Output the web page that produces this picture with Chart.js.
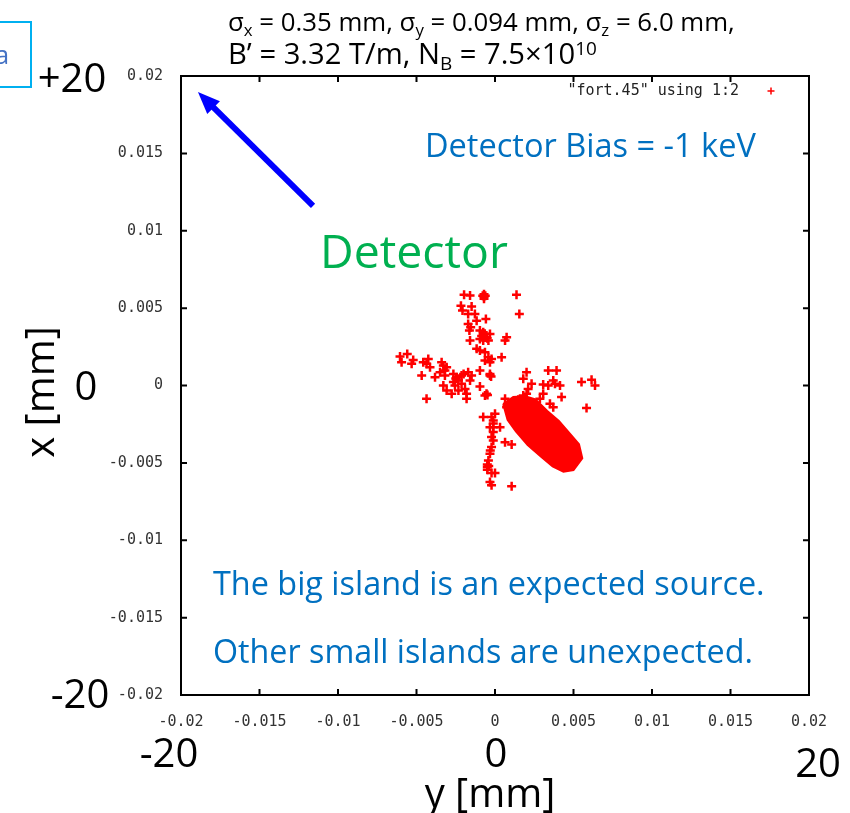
<!DOCTYPE html>
<html>
<head>
<meta charset="utf-8">
<script src="https://cdn.jsdelivr.net/npm/chart.js@4.4.0/dist/chart.umd.min.js"></script>
<style>
  html, body { margin: 0; padding: 0; background: #fff; }
  #wrap { position: relative; width: 850px; height: 813px; overflow: hidden; }
  #wrap canvas { position: absolute; left: 0; top: 0; }
  .lbl { position: absolute; white-space: nowrap; line-height: 1; font-family: "Open Sans", sans-serif; color: #000; }
  .mid { transform: translate(-50%, -50%); }
  .lft { transform: translateY(-50%); }
  .big { font-size: 40px; }
  .blue { color: #0070C0; }
  .sb { font-size: 0.65em; vertical-align: -0.3em; }
  .sp { font-size: 0.65em; vertical-align: 0.5em; }
  #tag { position: absolute; left: -20px; top: 21px; width: 48px; height: 63px; border: 2px solid #00B0F0; }
</style>
</head>
<body>
<div id="wrap">
  <canvas id="chart" width="850" height="813"></canvas>

  <div id="tag"></div>
  <div class="lbl mid" style="left:2px; top:54px; font-size:26px; color:#4472C4;">a</div>

  <div class="lbl lft" data-w="507" style="left:228px; top:24px; font-size:22px;">&sigma;<span class="sb">x</span> = 0.35 mm, &sigma;<span class="sb">y</span> = 0.094 mm, &sigma;<span class="sb">z</span> = 6.0 mm,</div>
  <div class="lbl lft" data-w="369" style="left:228px; top:56px; font-size:22px;">B&rsquo; = 3.32 T/m, N<span class="sb">B</span> = 7.5&times;10<span class="sp">10</span></div>

  <div class="lbl mid big" style="left:72px; top:77px;">+20</div>
  <div class="lbl mid big" style="left:86px; top:385px;">0</div>
  <div class="lbl mid big" style="left:80px; top:693px;">-20</div>
  <div class="lbl big" style="left:39px; top:392px; transform: translate(-50%, -50%) rotate(-90deg);">x [mm]</div>

  <div class="lbl mid big" style="left:169px; top:752px;">-20</div>
  <div class="lbl mid big" style="left:496px; top:752px;">0</div>
  <div class="lbl mid big" style="left:818px; top:762px;">20</div>
  <div class="lbl mid big" style="left:490px; top:792px;">y [mm]</div>

  <div class="lbl lft blue" data-w="331" style="left:425px; top:145px; font-size:28px;">Detector Bias = -1 keV</div>
  <div class="lbl lft" data-w="188" style="left:320px; top:250px; font-size:42px; color:#00B050;">Detector</div>
  <div class="lbl lft blue" data-w="552" style="left:213px; top:582px; font-size:28px;">The big island is an expected source.</div>
  <div class="lbl lft blue" data-w="540" style="left:213px; top:651px; font-size:28px;">Other small islands are unexpected.</div>
</div>

<script>
// horizontal axis = y [m], vertical axis = x [m]
const axisTicks = [-0.02, -0.015, -0.01, -0.005, 0, 0.005, 0.01, 0.015, 0.02];

// outline of the big (expected) island
const islandH = [0.00052, 0.00116, 0.00192, 0.00258, 0.00333, 0.00407, 0.00481, 0.00535,
                 0.00556, 0.00500, 0.00436, 0.00367, 0.00292, 0.00208, 0.00133, 0.00080, 0.00052];
const islandV = [-0.00120, -0.00074, -0.00070, -0.00090, -0.00165, -0.00229, -0.00316, -0.00380,
                 -0.00470, -0.00547, -0.00557, -0.00523, -0.00459, -0.00384, -0.00297, -0.00222, -0.00120];

// small islands / stray hits
const strayH = [
  // upper arm
  -0.00197, -0.00159, -0.00070, -0.00070, -0.00070, -0.00078, -0.00062, 0.00137, 0.00155, -0.00217,
  -0.00149, -0.00207, -0.00171, -0.00128, -0.00117, -0.00058, -0.00171, -0.00155, -0.00163, -0.00096,
  -0.00075, -0.00032, -0.00058, -0.00096, -0.00075, -0.00042, -0.00159, 0.00074, 0.00064, -0.00117,
  -0.00096, -0.00064, -0.00042, -0.00022, -0.00064, 0.00042, -0.00032, -0.00085, -0.00065, -0.00050,
  // left arm
  -0.00605, -0.00559, -0.00595, -0.00521, -0.00531, -0.00457, -0.00425, -0.00436, -0.00414, -0.00340,
  -0.00329, -0.00308, -0.00319, -0.00350, -0.00467, -0.00382, -0.00319, -0.00265, -0.00245, -0.00213,
  -0.00171, -0.00149, -0.00159, -0.00233, -0.00265, -0.00255, -0.00213, -0.00329, -0.00308, -0.00276,
  -0.00233, -0.00191, -0.00181, -0.00181, -0.00436, -0.00096, -0.00032, -0.00032, -0.00025, -0.00096,
  -0.00054, -0.00048, -0.00064, -0.00250, -0.00200,
  // lower arm
  0.00064, 0.00074, -0.00075, 0.00000, -0.00011, -0.00011, -0.00032, 0.00032, -0.00022, -0.00011,
  0.00064, 0.00106, -0.00022, -0.00032, -0.00042, -0.00049, -0.00049, -0.00049, -0.00040, -0.00022,
  0.00000, -0.00032, -0.00022, 0.00106, -0.00011, -0.00022, -0.00011, -0.00030,
  // right of the big island
  0.00201, 0.00339, 0.00392, 0.00180, 0.00233, 0.00307, 0.00371, 0.00382, 0.00414, 0.00339,
  0.00211, 0.00201, 0.00180, 0.00286, 0.00424, 0.00307, 0.00350, 0.00371, 0.00551, 0.00615,
  0.00637, 0.00583, 0.00148
];
const strayV = [
  0.00587, 0.00581, 0.00574, 0.00590, 0.00560, 0.00580, 0.00580, 0.00587, 0.00462, 0.00516,
  0.00510, 0.00484, 0.00462, 0.00462, 0.00419, 0.00430, 0.00398, 0.00376, 0.00355, 0.00355,
  0.00344, 0.00333, 0.00312, 0.00301, 0.00290, 0.00290, 0.00290, 0.00312, 0.00290, 0.00237,
  0.00226, 0.00215, 0.00183, 0.00172, 0.00161, 0.00183, 0.00150, 0.00320, 0.00335, 0.00305,

  0.00187, 0.00204, 0.00150, 0.00165, 0.00140, 0.00150, 0.00172, 0.00140, 0.00118, 0.00150,
  0.00129, 0.00118, 0.00097, 0.00086, 0.00065, 0.00054, 0.00065, 0.00075, 0.00054, 0.00065,
  0.00086, 0.00065, 0.00032, 0.00032, 0.00022, 0.00000, 0.00011, 0.00000, -0.00032, -0.00054,
  -0.00032, -0.00022, -0.00054, -0.00086, -0.00086, 0.00097, 0.00065, 0.00075, 0.00058, -0.00006,
  -0.00054, -0.00062, -0.00065, 0.00045, 0.00075,

  -0.00086, -0.00140, -0.00204, -0.00183, -0.00226, -0.00269, -0.00269, -0.00269, -0.00333, -0.00355,
  -0.00366, -0.00381, -0.00398, -0.00441, -0.00484, -0.00527, -0.00510, -0.00545, -0.00520, -0.00566,
  -0.00566, -0.00624, -0.00645, -0.00651, -0.00301, -0.00204, -0.00245, -0.00420,

  0.00086, 0.00097, 0.00097, 0.00043, 0.00011, 0.00006, 0.00032, 0.00011, 0.00000, 0.00000,
  -0.00022, -0.00054, -0.00065, -0.00086, -0.00075, -0.00054, -0.00118, -0.00140, 0.00022, 0.00037,
  0.00000, -0.00146, -0.00092
];

// detector arrow (tail -> tip), in axis units
const arrowTail = [-0.01159, 0.01160];
const arrowTip = [-0.01892, 0.01896];

const legendLabel = '"fort.45" using 1:2';

const toPoints = (hs, vs) => hs.map((h, i) => ({ x: h, y: vs[i] }));

const tickFont = { family: '"DejaVu Sans Mono", monospace', size: 15 };

const formatTick = (v) => Number(v.toFixed(3)).toString();

// gnuplot style frame: box, inward mirrored ticks, key and the arrow
const gnuplotFrame = {
  id: 'gnuplotFrame',
  afterDatasetsDraw(chart) {
    const { ctx, chartArea: a, scales: { x, y } } = chart;
    ctx.save();
    ctx.strokeStyle = '#000';
    ctx.lineWidth = 2;
    ctx.strokeRect(a.left, a.top, a.right - a.left, a.bottom - a.top);
    ctx.beginPath();
    axisTicks.forEach(v => {
      const px = x.getPixelForValue(v);
      ctx.moveTo(px, a.bottom); ctx.lineTo(px, a.bottom - 6);
      ctx.moveTo(px, a.top); ctx.lineTo(px, a.top + 6);
      const py = y.getPixelForValue(v);
      ctx.moveTo(a.left, py); ctx.lineTo(a.left + 6, py);
      ctx.moveTo(a.right, py); ctx.lineTo(a.right - 6, py);
    });
    ctx.stroke();

    // key
    ctx.fillStyle = '#222';
    ctx.font = '15px "DejaVu Sans Mono", monospace';
    ctx.textAlign = 'right';
    ctx.textBaseline = 'alphabetic';
    ctx.fillText(legendLabel, a.right - 70, a.top + 19);
    ctx.strokeStyle = '#ff0000';
    ctx.lineWidth = 1.5;
    const kx = a.right - 38, ky = a.top + 15;
    ctx.beginPath();
    ctx.moveTo(kx - 3.5, ky); ctx.lineTo(kx + 3.5, ky);
    ctx.moveTo(kx, ky - 3.5); ctx.lineTo(kx, ky + 3.5);
    ctx.stroke();

    // arrow to the detector
    const tail = { x: x.getPixelForValue(arrowTail[0]), y: y.getPixelForValue(arrowTail[1]) };
    const tip = { x: x.getPixelForValue(arrowTip[0]), y: y.getPixelForValue(arrowTip[1]) };
    const ang = Math.atan2(tip.y - tail.y, tip.x - tail.x);
    const headLen = 22, headW = 9;
    const bx = tip.x - headLen * Math.cos(ang), by = tip.y - headLen * Math.sin(ang);
    ctx.strokeStyle = '#0000ff';
    ctx.fillStyle = '#0000ff';
    ctx.lineWidth = 6;
    ctx.beginPath();
    ctx.moveTo(tail.x, tail.y);
    ctx.lineTo(bx + 2 * Math.cos(ang), by + 2 * Math.sin(ang));
    ctx.stroke();
    ctx.beginPath();
    ctx.moveTo(tip.x, tip.y);
    ctx.lineTo(bx + headW * Math.sin(ang), by - headW * Math.cos(ang));
    ctx.lineTo(bx - headW * Math.sin(ang), by + headW * Math.cos(ang));
    ctx.closePath();
    ctx.fill();
    ctx.restore();
  }
};

const config = {
  type: 'scatter',
  data: {
    datasets: [
      {
        label: 'island',
        data: toPoints(islandH, islandV),
        showLine: true,
        fill: 'shape',
        tension: 0,
        backgroundColor: '#ff0000',
        borderColor: '#ff0000',
        borderWidth: 2,
        pointRadius: 0
      },
      {
        label: legendLabel,
        data: toPoints(strayH, strayV),
        pointStyle: 'cross',
        pointRadius: 4.5,
        borderColor: '#ff0000',
        backgroundColor: '#ff0000',
        borderWidth: 2.5
      }
    ]
  },
  options: {
    responsive: false,
    animation: false,
    devicePixelRatio: 1,
    layout: { padding: { left: 0, top: 76, right: 41, bottom: 0 } },
    scales: {
      x: {
        type: 'linear',
        min: -0.02,
        max: 0.02,
        afterBuildTicks: (scale) => { scale.ticks = axisTicks.map(v => ({ value: v })); },
        afterFit: (scale) => { scale.height = 118; },
        grid: { display: false },
        border: { display: false },
        ticks: { font: tickFont, color: '#333', padding: 10, maxRotation: 0, callback: formatTick }
      },
      y: {
        type: 'linear',
        min: -0.02,
        max: 0.02,
        afterBuildTicks: (scale) => { scale.ticks = axisTicks.map(v => ({ value: v })); },
        afterFit: (scale) => { scale.width = 181; },
        grid: { display: false },
        border: { display: false },
        ticks: { font: tickFont, color: '#333', padding: 10, callback: formatTick }
      }
    },
    plugins: {
      legend: { display: false },
      tooltip: { enabled: false }
    }
  },
  plugins: [gnuplotFrame]
};

new Chart(document.getElementById('chart'), config);

// squeeze the slide texts to the widths they have in the picture
document.querySelectorAll('[data-w]').forEach(el => {
  const target = +el.dataset.w;
  const fs = parseFloat(getComputedStyle(el).fontSize);
  el.style.fontSize = (fs * target / el.getBoundingClientRect().width) + 'px';
});
</script>
</body>
</html>
